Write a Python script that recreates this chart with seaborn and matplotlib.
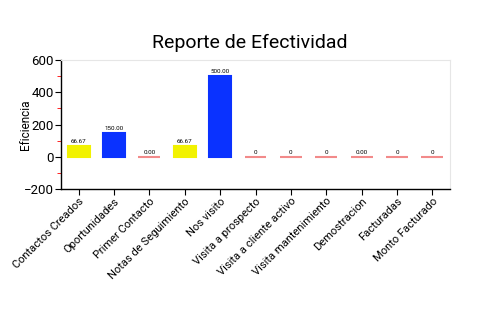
import matplotlib
matplotlib.use("Agg")
import matplotlib.pyplot as plt
import seaborn as sns
import pandas as pd
from matplotlib.ticker import MultipleLocator

categories = ["Contactos Creados", "Oportunidades", "Primer Contacto",
              "Notas de Seguimiento", "Nos visito", "Visita a prospecto",
              "Visita a cliente activo", "Visita mantenimiento",
              "Demostracion", "Facturadas", "Monto Facturado"]
values = [66.67, 150.00, 0.00, 66.67, 500.00, 0, 0, 0, 0.00, 0, 0]
value_labels = ["66.67", "150.00", "0.00", "66.67", "500.00", "0", "0", "0",
                "0.00", "0", "0"]
groups = ["medio", "alto", "bajo", "medio", "alto", "bajo", "bajo", "bajo",
          "bajo", "bajo", "bajo"]
palette = {"medio": "#f2f200", "alto": "#0a32ff", "bajo": "#f28a8a"}

sns.set_style("white")
plt.rcParams["font.family"] = ["Roboto", "DejaVu Sans"]
plt.rcParams["text.color"] = "black"
plt.rcParams["axes.labelcolor"] = "black"
plt.rcParams["xtick.color"] = "black"
plt.rcParams["ytick.color"] = "black"

df = pd.DataFrame({"cat": categories, "val": values, "grp": groups})

fig = plt.figure(figsize=(5, 3.3), dpi=100)
ax = fig.add_axes([0.122, 0.427, 0.778, 0.391])

sns.barplot(data=df, x="cat", y="val", hue="grp", palette=palette,
            dodge=False, width=0.62, legend=False, ax=ax, saturation=1)

# give every bar an edge in its own colour so zero-height bars stay visible
for patch in ax.patches:
    patch.set_edgecolor(patch.get_facecolor())
    patch.set_linewidth(1.5)

for i, (v, lab) in enumerate(zip(values, value_labels)):
    ax.text(i, v + 12, lab, ha="center", va="bottom", fontsize=4.5)

ax.set_ylim(-200, 600)
ax.yaxis.set_major_locator(MultipleLocator(200))
ax.yaxis.set_minor_locator(MultipleLocator(100))
ax.tick_params(axis="y", which="minor", length=3, color="red", width=0.6,
               left=True)
ax.tick_params(axis="y", which="major", length=4, color="black", width=0.8,
               labelsize=9.5, left=True, pad=1)
ax.tick_params(axis="x", length=4, color="black", width=0.8, labelsize=8,
               bottom=True, pad=1)
ax.set_xticks(range(len(categories)))
ax.set_xticklabels(categories, rotation=45, ha="right",
                   rotation_mode="anchor")
ax.set_xlabel("")
ax.set_ylabel("Eficiencia", fontsize=8.5)
ax.yaxis.set_label_coords(-0.075, 0.5)

for side in ["top", "right"]:
    ax.spines[side].set_color("#e6e6e6")
    ax.spines[side].set_linewidth(0.8)
for side in ["left", "bottom"]:
    ax.spines[side].set_color("black")
    ax.spines[side].set_linewidth(1)

fig.suptitle("Reporte de Efectividad", x=0.5, y=0.87, fontsize=14,
             va="center")

fig.savefig("out.png", dpi=100)
